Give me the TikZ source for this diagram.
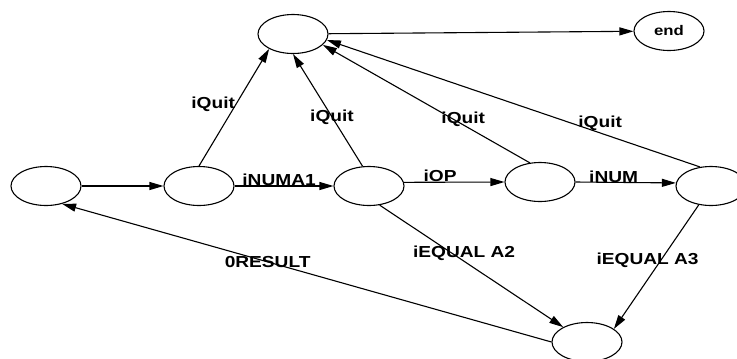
\documentclass[tikz,border=0pt]{standalone}
\usepackage{fontspec}
\setmainfont{Liberation Sans}[FakeStretch=1.2]
\usetikzlibrary{shapes.geometric,arrows.meta}

\begin{document}
\begin{tikzpicture}[x=1bp, y=-1bp, line width=1.1bp,
        state/.style={draw, ellipse, minimum width=70bp, minimum height=39bp, inner sep=0pt},
        trans/.style={-{Triangle[length=14bp,width=8bp]}},
        lbl/.style={inner sep=0pt, font=\bfseries\fontsize{16}{19}\selectfont}]
        \useasboundingbox (0, 0) rectangle (737, 358);

        % states
        \node[state] (t) at (293, 34) {};
        \node[state, font=\bfseries\fontsize{14}{17}\selectfont] (end) at (669, 31) {end};
        \node[state] (a) at (46, 186) {};
        \node[state] (b) at (199, 186) {};
        \node[state] (c) at (369, 186) {};
        \node[state] (d) at (540, 182) {};
        \node[state] (e) at (711, 186) {};
        \node[state] (f) at (587, 342) {};

        % main line
        \draw[trans] (a) -- (b);
        \draw[trans] (b) -- node[lbl, pos=.45, yshift=6bp] {iNUMA1} (c);
        \draw[trans] (c.6) -- node[lbl, pos=.36, yshift=6bp] {iOP} (d.west);
        \draw[trans] (d.east) -- node[lbl, pos=.38, yshift=6bp] {iNUM} (e.175);
        \draw[trans] (t) -- (end);

        % quit edges
        \foreach \src/\from/\to/\p/\dx in {b/north/212/.53/-23bp, c/108/south/.44/0bp,
                d/118/340/.37/10bp, e/120/350/.34/27bp} {
            \draw[trans] (\src.\from) -- node[lbl, pos=\p, xshift=\dx] {iQuit} (t.\to);
        }

        % result
        \draw[trans] (c.299) -- node[lbl, pos=.46, yshift=8bp] {iEQUAL A2} (f.148);
        \draw[trans] (e.237) -- node[lbl, pos=.45, xshift=-13bp] {iEQUAL A3} (f.26);
        \draw[trans] (f.west) -- node[lbl, pos=.58] {0RESULT} (a.312);
    \end{tikzpicture}
\end{document}
